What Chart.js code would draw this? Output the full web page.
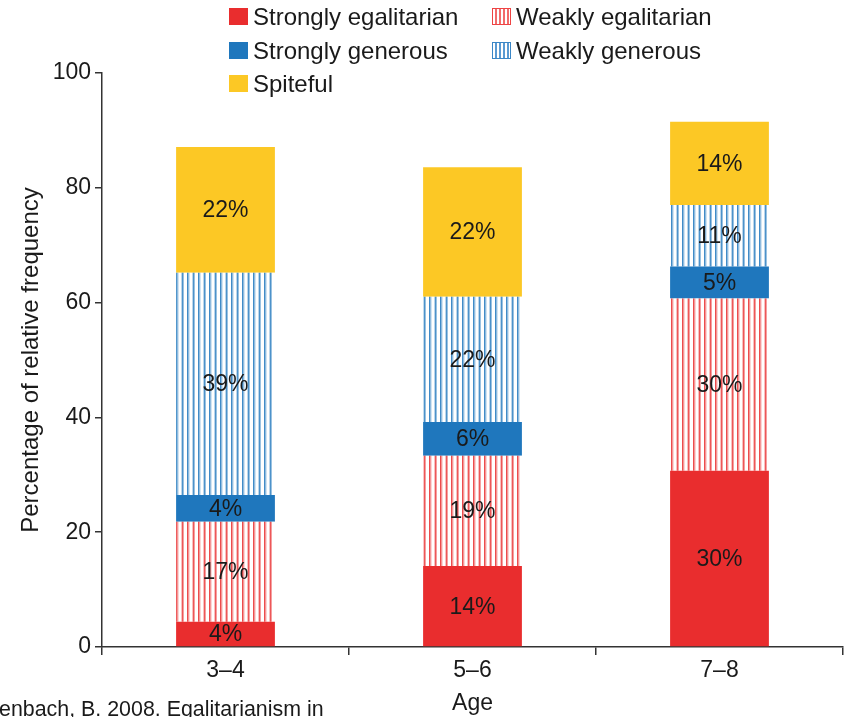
<!DOCTYPE html>
<html>
<head>
<meta charset="utf-8">
<script src="https://cdn.jsdelivr.net/npm/chart.js@4"></script>
<style>
  body { margin: 0; background: #fff; font-family: "Liberation Sans", Arial, sans-serif; }
  #wrap { position: relative; width: 853px; height: 717px; overflow: hidden; }
  .leg { position: absolute; font-size: 24px; color: #1a1a1a; line-height: 24px; white-space: nowrap; }
  .sw { position: absolute; width: 19px; height: 17px; box-sizing: border-box; }
</style>
</head>
<body>
<div id="wrap">
  <canvas id="chart" width="853" height="717"></canvas>
  <div class="sw" style="left:229px;top:8px;background:#e92d2e"></div>
  <div class="leg" style="left:253px;top:5px">Strongly egalitarian</div>
  <div class="sw" style="left:229px;top:42px;background:#1f77bd"></div>
  <div class="leg" style="left:253px;top:39px">Strongly generous</div>
  <div class="sw" style="left:229px;top:75px;background:#fcc825"></div>
  <div class="leg" style="left:253px;top:72px">Spiteful</div>
  <div class="sw" style="left:492px;top:8px;border:1px solid #ee4444;background:repeating-linear-gradient(90deg,#fff 0 2px,#f26b6b 2px 4px)"></div>
  <div class="leg" style="left:516px;top:5px">Weakly egalitarian</div>
  <div class="sw" style="left:492px;top:42px;border:1px solid #3a86c6;background:repeating-linear-gradient(90deg,#fff 0 2px,#5a9ad2 2px 4px)"></div>
  <div class="leg" style="left:516px;top:39px">Weakly generous</div>
</div>
<script>
const ages = ['3–4', '5–6', '7–8'];
const strongEgal = [4.4, 14.1, 30.7];
const weakEgal = [17.4, 19.2, 30.0];
const strongGen = [4.7, 5.9, 5.6];
const weakGen = [38.7, 21.8, 10.7];
const spiteful = [21.9, 22.6, 14.5];
const shownLabels = [
  ['4%', '14%', '30%'],
  ['17%', '19%', '30%'],
  ['4%', '6%', '5%'],
  ['39%', '22%', '11%'],
  ['22%', '22%', '14%']
];
const yTicks = [0, 20, 40, 60, 80, 100];

const RED = '#e92d2e';
const BLUE = '#1f77bd';
const YELLOW = '#fcc825';

// vertical hatching, roughly one line every 5.5px
function stripes(color) {
  const c = document.createElement('canvas');
  c.width = 11; c.height = 4;
  const g = c.getContext('2d');
  g.fillStyle = '#fff';
  g.fillRect(0, 0, 11, 4);
  g.fillStyle = color;
  [[0, 0.85], [1, 0.5], [2, 0.2], [5, 0.3], [6, 0.8], [7, 0.45]].forEach(([x, a]) => {
    g.globalAlpha = a;
    g.fillRect(x, 0, 1, 4);
  });
  return g.createPattern(c, 'repeat');
}

const barLabels = {
  id: 'barLabels',
  afterDatasetsDraw(chart) {
    const ctx = chart.ctx;
    ctx.save();
    ctx.font = '23px "Liberation Sans", Arial, sans-serif';
    ctx.fillStyle = '#1a1a1a';
    ctx.textAlign = 'center';
    ctx.textBaseline = 'middle';
    chart.data.datasets.forEach((ds, i) => {
      chart.getDatasetMeta(i).data.forEach((bar, j) => {
        ctx.fillText(shownLabels[i][j], bar.x, (bar.y + bar.base) / 2 + 1);
      });
    });
    ctx.restore();
  }
};

const extraText = {
  id: 'extraText',
  afterDraw(chart) {
    const ctx = chart.ctx;
    const a = chart.chartArea;
    ctx.save();
    ctx.font = '23px "Liberation Sans", Arial, sans-serif';
    ctx.fillStyle = '#1a1a1a';
    ctx.textAlign = 'center';
    ctx.textBaseline = 'middle';
    ctx.fillText('Age', (a.left + a.right) / 2, 704);
    ctx.font = '24px "Liberation Sans", Arial, sans-serif';
    ctx.translate(31, (a.top + a.bottom) / 2);
    ctx.rotate(-Math.PI / 2);
    ctx.fillText('Percentage of relative frequency', 0, 0);
    ctx.restore();
    ctx.save();
    ctx.font = '21.4px "Liberation Sans", Arial, sans-serif';
    ctx.fillStyle = '#1a1a1a';
    ctx.textAlign = 'left';
    ctx.textBaseline = 'alphabetic';
    ctx.fillText('enbach, B. 2008. Egalitarianism in', -1, 716);
    ctx.restore();
  }
};

const common = { barPercentage: 0.4, categoryPercentage: 1, borderWidth: 0 };

new Chart(document.getElementById('chart').getContext('2d'), {
  type: 'bar',
  data: {
    labels: ages,
    datasets: [
      { label: 'Strongly egalitarian', data: strongEgal, backgroundColor: RED, ...common },
      { label: 'Weakly egalitarian', data: weakEgal, backgroundColor: stripes(RED), ...common },
      { label: 'Strongly generous', data: strongGen, backgroundColor: BLUE, ...common },
      { label: 'Weakly generous', data: weakGen, backgroundColor: stripes(BLUE), ...common },
      { label: 'Spiteful', data: spiteful, backgroundColor: YELLOW, ...common }
    ]
  },
  options: {
    responsive: false,
    animation: false,
    layout: { padding: { top: 73, right: 10, left: 0, bottom: 0 } },
    scales: {
      x: {
        stacked: true,
        afterFit: s => { s.height = 70; },
        grid: { offset: true, drawOnChartArea: false, tickLength: 8, color: '#333', lineWidth: 1.5 },
        border: { color: '#333', width: 1.5 },
        ticks: {
          color: '#1a1a1a',
          padding: 2,
          font: { family: '"Liberation Sans", Arial, sans-serif', size: 23 }
        }
      },
      y: {
        stacked: true,
        min: 0,
        max: 100,
        afterFit: s => { s.width = 102; },
        afterBuildTicks: s => { s.ticks = yTicks.map(v => ({ value: v })); },
        grid: { drawOnChartArea: false, tickLength: 7, color: '#333', lineWidth: 1.5 },
        border: { color: '#333', width: 1.5 },
        ticks: {
          color: '#1a1a1a',
          padding: 4,
          font: { family: '"Liberation Sans", Arial, sans-serif', size: 23 }
        }
      }
    },
    plugins: {
      legend: { display: false },
      tooltip: { enabled: false }
    }
  },
  plugins: [barLabels, extraText]
});
</script>
</body>
</html>
